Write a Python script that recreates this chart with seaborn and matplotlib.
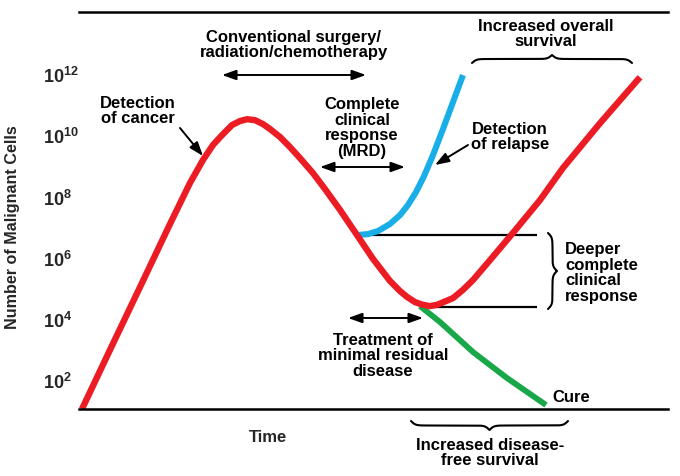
import numpy as np
import matplotlib
matplotlib.use("Agg")
import matplotlib.pyplot as plt
import seaborn as sns

# Schematic values (time in arbitrary units, log10 of cell count)
time_red = [3, 31, 61, 91, 111, 124, 134, 143, 153, 161, 168, 176, 184, 191, 201, 211,
            221, 234, 246, 261, 278, 294, 311, 321, 328, 336, 344, 351, 358, 374, 384, 394, 411,
            434, 461, 484, 521, 561]
log_red = [1.10, 3.03, 5.08, 7.14, 8.48, 9.23, 9.72, 10.04, 10.37, 10.50, 10.56, 10.53, 10.40, 10.24, 9.98, 9.65,
           9.29, 8.80, 8.28, 7.60, 6.78, 6.00, 5.28, 4.95, 4.76, 4.59, 4.50, 4.46, 4.50, 4.72, 4.99, 5.31, 5.96,
           6.85, 7.92, 8.97, 10.43, 11.93]

time_blue = [279, 289, 299, 311, 321, 329, 337, 345, 354, 364, 374, 384]
log_blue = [6.78, 6.81, 6.91, 7.14, 7.43, 7.76, 8.18, 8.70, 9.39, 10.24, 11.12, 12.00]

time_green = [341, 361, 394, 428, 467]
log_green = [4.46, 3.94, 2.96, 2.11, 1.23]

# response levels (horizontal reference lines)
level_values = [6.78, 4.43]
level_start = [279, 346]
level_end = 458

tick_exponents = [2, 4, 6, 8, 10, 12]
tick_labels = [r'$\mathrm{10^{%d}}$' % e for e in tick_exponents]

RED = '#ec1c24'
BLUE = '#1aaee8'
GREEN = '#18a84a'

sns.set_theme(style="white")
plt.rcParams['font.family'] = ['Liberation Sans', 'DejaVu Sans']
plt.rcParams['font.weight'] = 'bold'
plt.rcParams['mathtext.fontset'] = 'custom'
plt.rcParams['mathtext.rm'] = 'Liberation Sans:bold'
plt.rcParams['mathtext.it'] = 'Liberation Sans:bold'
plt.rcParams['mathtext.bf'] = 'Liberation Sans:bold'

W, H = 680, 476
fig = plt.figure(figsize=(W / 100, H / 100), dpi=100)
ax = fig.add_axes([79 / W, 1 - 409 / H, 589 / W, 397 / H])
ax.set_yscale('log')


def fxy(px, py):
    # pixel position -> figure fraction
    return (px / W, 1 - py / H)


# curves
sns.lineplot(x=time_blue, y=10 ** np.array(log_blue), color=BLUE, lw=4.4, ax=ax,
             solid_capstyle='butt')
sns.lineplot(x=time_green, y=10 ** np.array(log_green), color=GREEN, lw=4.2, ax=ax,
             solid_capstyle='butt')
sns.lineplot(x=time_red, y=10 ** np.array(log_red), color=RED, lw=4.6, ax=ax,
             solid_capstyle='butt')

for lv, x0 in zip(level_values, level_start):
    ax.hlines(10 ** lv, x0, level_end, color='black', lw=1.6, zorder=1)

ax.set_xlim(0, 589)
ax.set_ylim(10 ** 1.10, 10 ** 14.06)
ax.set_xticks([])
ax.set_yticks([10.0 ** e for e in tick_exponents])
ax.set_yticklabels(tick_labels, fontsize=13, ha='left')
ax.yaxis.set_minor_locator(matplotlib.ticker.NullLocator())
ax.tick_params(axis='y', length=0, pad=26)

for side in ['left', 'right']:
    ax.spines[side].set_visible(False)
for side in ['top', 'bottom']:
    ax.spines[side].set_linewidth(1.8)
    ax.spines[side].set_color('black')

ax.set_ylabel('Number of Malignant Cells', fontsize=11.6, fontweight='bold', va='center')
ax.yaxis.set_label_coords((13 - 79) / 589, (409 - 227) / 397)
ax.set_xlabel('Time', fontsize=12, fontweight='bold', va='center')
ax.xaxis.set_label_coords((268 - 79) / 589, (409 - 438) / 397)

# annotations
txt = dict(fontsize=12, fontweight='bold', color='black', linespacing=1.08)
fig.text(*fxy(294, 45), 'Conventional surgery/\nradiation/chemotherapy', ha='center', va='center', **txt)
fig.text(*fxy(546, 34), 'Increased overall\nsurvival', ha='center', va='center', **txt)
fig.text(*fxy(138, 111), 'Detection\nof cancer', ha='center', va='center', **txt)
fig.text(*fxy(362, 128), 'Complete\nclinical\nresponse\n(MRD)', ha='center', va='center', **txt)
fig.text(*fxy(510, 137), 'Detection\nof relapse', ha='center', va='center', **txt)
fig.text(*fxy(565, 273), 'Deeper\ncomplete\nclinical\nresponse', ha='left', va='center', **txt)
fig.text(*fxy(383, 356), 'Treatment of\nminimal residual\ndisease', ha='center', va='center', **txt)
fig.text(*fxy(552, 397), 'Cure', ha='left', va='center', **txt)
fig.text(*fxy(490, 453), 'Increased disease-\nfree survival', ha='center', va='center', **txt)

two_head = dict(arrowstyle='<|-|>,head_length=0.7,head_width=0.25', color='black', lw=1.4,
                shrinkA=0, shrinkB=0, mutation_scale=12)
one_head = dict(arrowstyle='-|>,head_length=0.7,head_width=0.25', color='black', lw=1.4,
                shrinkA=0, shrinkB=0, mutation_scale=12)
for (x0, x1, y) in [(222, 366, 75), (320, 405, 167), (348, 423, 318)]:
    ax.annotate('', xy=fxy(x1, y), xytext=fxy(x0, y), xycoords='figure fraction',
                textcoords='figure fraction', arrowprops=two_head)
ax.annotate('', xy=fxy(203, 156), xytext=fxy(180, 128), xycoords='figure fraction',
            textcoords='figure fraction', arrowprops=one_head)
ax.annotate('', xy=fxy(435, 165), xytext=fxy(468, 145), xycoords='figure fraction',
            textcoords='figure fraction', arrowprops=one_head)


def brace(a, b, base, tip, k=0.45, vertical=False):
    L = b - a
    s = np.linspace(0, L / 2, 120)
    h = 1 / (1 + np.exp(-k * s)) + 1 / (1 + np.exp(-k * (s - L / 2))) - 0.5
    along = np.concatenate([a + s, b - s[::-1]])
    across = np.concatenate([h, h[::-1]])
    off = base + (tip - base) * across
    if vertical:
        px, py = off, along
    else:
        px, py = along, off
    ax.plot(px / W, 1 - py / H, color='black', lw=1.5, transform=fig.transFigure, clip_on=False)


brace(472, 632, 63, 55)
brace(411, 568, 421, 430)
brace(233, 309, 548, 557, vertical=True)

fig.savefig('out.png', dpi=100)
